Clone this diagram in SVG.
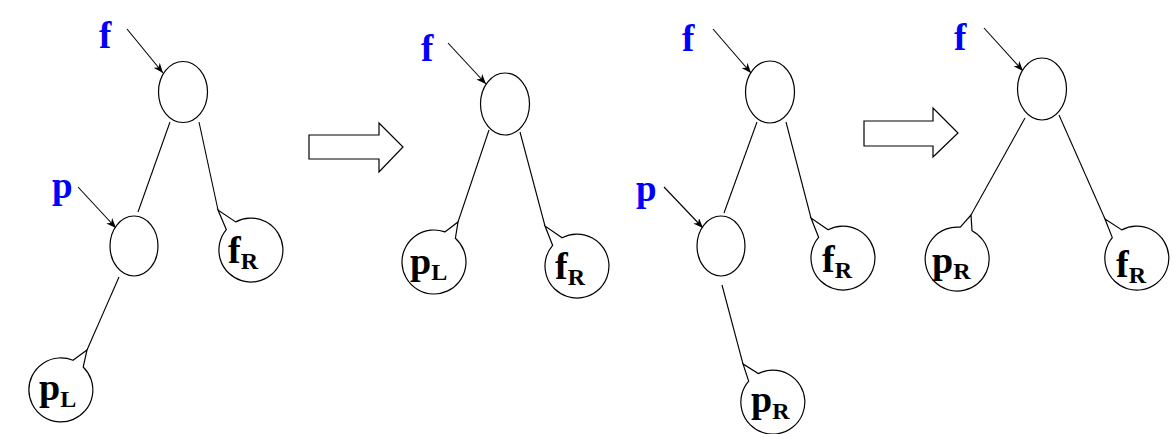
<svg xmlns="http://www.w3.org/2000/svg" width="1173" height="434" viewBox="0 0 1173 434">
<style>
.n{fill:#fff;stroke:#000;stroke-width:1.2}
.e{stroke:#000;stroke-width:1.1;fill:none}
.ptr{stroke:#000;stroke-width:1.1;fill:none;marker-end:url(#ah)}
.big{fill:#fff;stroke:#000;stroke-width:1.2}
.lb{font-family:"Liberation Serif","Times New Roman",serif;font-weight:bold;font-size:37px;fill:#0000ff}
.t{font-family:"Liberation Serif","Times New Roman",serif;font-weight:bold;font-size:38px;fill:#000}
.s{font-size:24px}
</style>
<defs>
<marker id="ah" viewBox="0 0 10 8" refX="10" refY="4" markerWidth="10" markerHeight="8" markerUnits="userSpaceOnUse" orient="auto">
<path d="M0,0 L10,4 L0,8 L3,4 Z" fill="#000"/>
</marker>
</defs>
<g id="connectors">
<line class="ptr" x1="127" y1="29" x2="163" y2="73"/>
<line class="ptr" x1="78" y1="187" x2="116" y2="228"/>
<line class="e" x1="170" y1="122" x2="138" y2="212"/>
<line class="e" x1="199" y1="122" x2="218" y2="210"/>
<line class="e" x1="119" y1="277" x2="87" y2="350"/>
<line class="ptr" x1="448" y1="43" x2="486" y2="84"/>
<line class="e" x1="489" y1="130" x2="458" y2="222"/>
<line class="e" x1="520" y1="132" x2="545" y2="226"/>
<line class="ptr" x1="713" y1="29" x2="751" y2="73"/>
<line class="ptr" x1="664" y1="187" x2="703" y2="228"/>
<line class="e" x1="757" y1="122" x2="724" y2="213"/>
<line class="e" x1="786" y1="122" x2="811" y2="218"/>
<line class="e" x1="722" y1="285" x2="743" y2="364"/>
<line class="ptr" x1="984" y1="28" x2="1023" y2="71"/>
<line class="e" x1="1025" y1="118" x2="971" y2="215"/>
<line class="e" x1="1059" y1="115" x2="1105" y2="219"/>
</g>
<g id="step-arrow-1"><polygon class="big" points="309,135 379,135 379,123 403,147 379,172 379,159 309,159"/></g>
<g id="step-arrow-2"><polygon class="big" points="864,121 933,121 933,108 958,133 933,157 933,146 864,146"/></g>
<g id="p1-label-f"><text class="lb" x="99" y="48">f</text></g>
<g id="p1-label-p"><text class="lb" x="52" y="198">p</text></g>
<g id="p1-f"><ellipse class="n" cx="183" cy="92" rx="24.5" ry="30.5"/></g>
<g id="p1-p"><ellipse class="n" cx="134" cy="246" rx="24" ry="30"/></g>
<g id="p1-fR"><path class="n" d="M226.3,229.6 L218,210 L235.7,221.9 A32,32 0 1,1 226.3,229.6 Z"/><text class="t" x="228" y="263">f<tspan class="s" dy="6">R</tspan></text></g>
<g id="p1-pL"><path class="n" d="M73,360.3 L87,350 L83.2,367 A32,32 0 1,1 73,360.3 Z"/><text class="t" x="39" y="400">p<tspan class="s" dy="7">L</tspan></text></g>
<g id="p2-label-f"><text class="lb" x="421" y="61">f</text></g>
<g id="p2-f"><ellipse class="n" cx="505" cy="104" rx="24.5" ry="31"/></g>
<g id="p2-pL"><path class="n" d="M444.9,231.9 L458,222 L455.4,238.2 A32,32 0 1,1 444.9,231.9 Z"/><text class="t" x="410" y="274">p<tspan class="s" dy="6">L</tspan></text></g>
<g id="p2-fR"><path class="n" d="M552.6,245.3 L545,226 L562.1,237.7 A32,32 0 1,1 552.6,245.3 Z"/><text class="t" x="555" y="279">f<tspan class="s" dy="6">R</tspan></text></g>
<g id="p3-label-f"><text class="lb" x="682" y="51">f</text></g>
<g id="p3-label-p"><text class="lb" x="636" y="201">p</text></g>
<g id="p3-f"><ellipse class="n" cx="770" cy="92" rx="24.5" ry="31"/></g>
<g id="p3-p"><ellipse class="n" cx="721" cy="246" rx="24" ry="30"/></g>
<g id="p3-fR"><path class="n" d="M818.6,237.3 L811,218 L828.1,229.7 A32,32 0 1,1 818.6,237.3 Z"/><text class="t" x="822" y="272">f<tspan class="s" dy="6">R</tspan></text></g>
<g id="p3-pR"><path class="n" d="M748.7,381.1 L743,364 L758.3,373.6 A32,32 0 1,1 748.7,381.1 Z"/><text class="t" x="751" y="412">p<tspan class="s" dy="7">R</tspan></text></g>
<g id="p4-label-f"><text class="lb" x="954" y="50">f</text></g>
<g id="p4-f"><ellipse class="n" cx="1042" cy="89" rx="24.5" ry="31"/></g>
<g id="p4-pR"><path class="n" d="M960.3,227.2 L971,215 L972,230.7 A32,32 0 1,1 960.3,227.2 Z"/><text class="t" x="932" y="273">p<tspan class="s" dy="6">R</tspan></text></g>
<g id="p4-fR"><path class="n" d="M1112.3,237.6 L1105,219 L1121.8,229.9 A32,32 0 1,1 1112.3,237.6 Z"/><text class="t" x="1116" y="277">f<tspan class="s" dy="6">R</tspan></text></g>
</svg>
